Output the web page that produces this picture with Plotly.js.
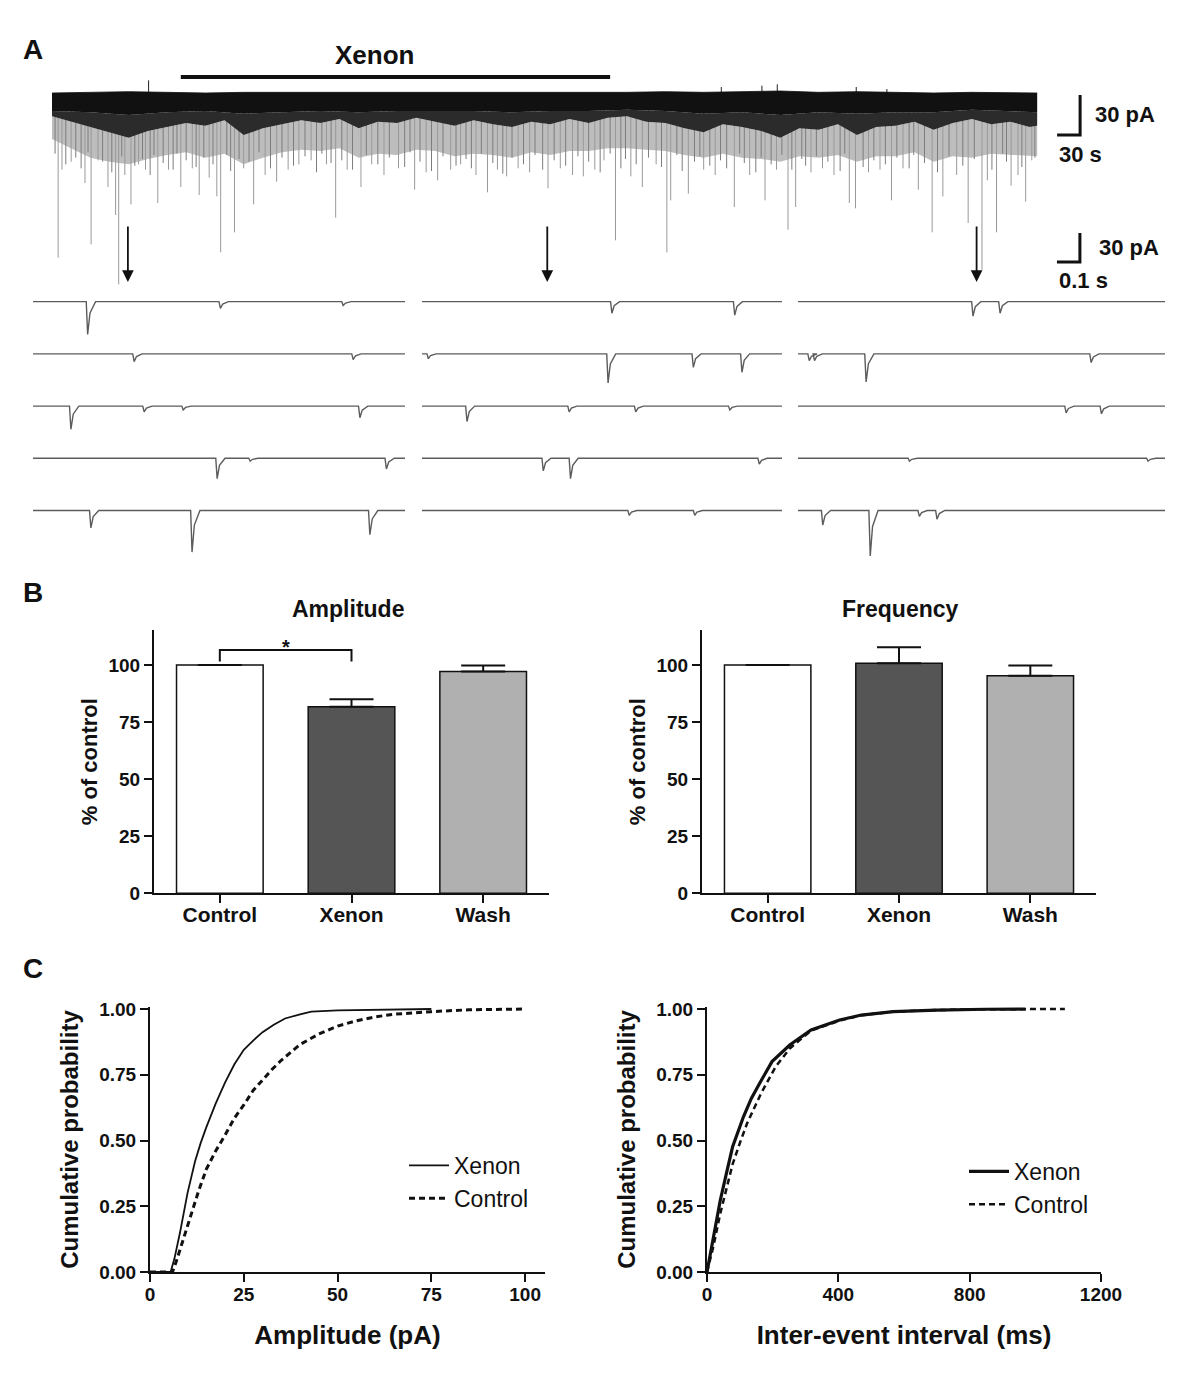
<!DOCTYPE html>
<html><head><meta charset="utf-8">
<script src="https://cdn.plot.ly/plotly-3.0.1.min.js"></script>
<style>html,body{margin:0;padding:0;background:#fff}#chart{width:1200px;height:1393px}</style>
</head><body><div id="chart"></div>
<script>
// ================= DATA =================
// Panel A – overview recording (time in s, current in pA relative to baseline)
const bandTime   = [0,50,100,150,200,250,300,350,400,450,500,550,600,650,700,750,800,850,900,950,1000,1050,1100,1150,1200,1250,1285];
const bandTop    = [1.5,2,2.5,2,1.5,2,2,1.5,2,1.5,1.5,2,1.5,2,1.5,2,2.5,2,2.5,3,2,2.5,2,1.5,2,1.5,1.5];
const bandSolid  = [-12,-13,-15,-13,-12,-14,-13,-12,-13,-12,-12,-12,-13,-12,-12,-11,-12,-14,-13,-15,-13,-14,-13,-13,-11,-12,-13];
const edgeTime = [0,25,50,75,100,125,150,175,200,225,
  250,275,300,325,350,375,400,425,450,475,
  500,525,550,575,600,625,650,675,700,725,
  750,775,800,825,850,875,900,925,950,975,
  1000,1025,1050,1075,1100,1125,1150,1175,1200,1225,
  1250,1275,1285];
const bandDark = [-16,-20,-24,-28,-32,-27,-24,-21,-23,-19,
  -30,-25,-22,-19,-21,-18,-25,-20,-21,-17,
  -20,-23,-19,-22,-24,-20,-22,-18,-21,-17,
  -16,-20,-21,-25,-28,-22,-24,-27,-32,-25,
  -26,-22,-30,-24,-23,-20,-26,-21,-18,-22,
  -20,-24,-23];
const bandFringe = [-33,-40,-47,-50,-52,-48,-45,-43,-47,-44,
  -52,-47,-43,-41,-42,-40,-47,-44,-45,-41,
  -42,-46,-44,-45,-47,-43,-45,-42,-42,-40,
  -40,-41,-42,-45,-47,-44,-47,-48,-50,-46,
  -47,-45,-50,-46,-46,-43,-50,-46,-47,-44,
  -45,-46,-46];
const spikeTime = [8,13,25,43,51,60,73,83,87,95,
  103,113,122,138,152,168,183,192,205,215,
  220,238,250,263,278,293,308,322,338,358,
  370,385,403,417,433,452,473,488,503,520,
  533,553,568,581,593,608,623,647,663,679,
  693,708,720,735,755,770,788,802,807,830,
  850,865,890,910,930,945,960,970,990,1005,
  1020,1040,1048,1065,1080,1095,1110,1130,1148,1162,
  1180,1195,1213,1220,1232,1251,1260,1270,1278];
const spikeAmp = [-122,-56,-50,-66,-112,-49,-69,-90,-142,-60,
  -82,-52,-56,-81,-56,-69,-55,-75,-62,-76,
  -118,-103,-55,-82,-60,-65,-56,-52,-49,-52,
  -92,-56,-69,-52,-60,-55,-71,-58,-64,-56,
  -52,-60,-73,-56,-61,-55,-58,-70,-55,-60,
  -61,-56,-49,-109,-61,-69,-52,-118,-79,-74,
  -56,-60,-84,-60,-79,-56,-101,-84,-58,-55,
  -60,-81,-85,-58,-56,-79,-55,-71,-103,-76,
  -60,-96,-131,-64,-103,-68,-60,-80,-49];
const mediumTime = [4,18,31,38,47,66,78,91,108,118,
  128,133,145,158,163,175,188,198,210,228,
  233,244,257,270,285,300,315,330,345,352,
  364,378,392,410,425,440,460,467,480,495,
  510,527,540,547,560,575,588,600,615,630,
  640,655,670,686,700,715,728,742,748,762,
  778,795,815,822,838,845,858,872,880,897,
  903,918,925,938,952,965,978,983,997,1012,
  1028,1034,1058,1072,1087,1102,1118,1124,1138,1155,
  1170,1188,1203,1226,1240,1245,1265,1282];
const mediumAmp = [-44,-52,-47,-55,-43,-50,-58,-46,-53,-48,
  -60,-45,-51,-56,-44,-49,-54,-47,-52,-45,
  -57,-48,-50,-43,-55,-47,-53,-46,-58,-44,
  -51,-49,-56,-45,-52,-47,-54,-43,-50,-57,
  -46,-53,-48,-55,-44,-51,-59,-47,-52,-45,
  -56,-49,-53,-46,-50,-58,-44,-55,-48,-52,
  -47,-54,-45,-57,-50,-46,-53,-49,-55,-44,
  -51,-58,-47,-52,-45,-56,-48,-53,-46,-50,
  -57,-44,-54,-49,-52,-47,-55,-45,-51,-58,
  -46,-53,-48,-56,-44,-50,-54,-47];
const upTime = [126,873,926,946,1049,1089];
const upAmp  = [11,6,7,8,6,4.5];
const xenonPeriod = [168, 728];          // s
const sampleTimes = [99, 646, 1206];     // s, where the sweeps below were taken
const scaleA = {time: 30, current: 30};  // 30 s, 30 pA

// Panel A – 1.6 s sweeps (event onset in s, amplitude in pA), 3 columns x 5 rows
const sweepDuration = 1.6;
const sweepTimesCol1 = [[0.229,0.8,1.328],[0.429,1.371],[0.157,0.472,0.64,1.4],[0.786,0.928,1.514],[0.243,0.678,1.443]];
const sweepAmpsCol1  = [[34,7,4],[8,6],[24,6,4,12],[21,3,11],[18,43,25]];
const sweepTimesCol2 = [[0.838,1.384],[0.022,0.821,1.2,1.416],[0.194,0.648,0.944,1.362],[0.533,0.654,1.493],[0.915,1.206]];
const sweepAmpsCol2  = [[12,14],[5,30,14,19],[16,6,6,4],[13,21,6],[5,5]];
const sweepTimesCol3 = [[0.757,0.875],[0.043,0.066,0.291,1.272],[1.163,1.317],[0.48,1.52],[0.102,0.309,0.523,0.6]];
const sweepAmpsCol3  = [[15,12],[7,7,29,9],[7,8],[3,3],[15,47,6,9]];
const scaleSweep = {time: 0.1, current: 30};

// Panel B – % of control (mean, +SEM)
const conditions = ['Control','Xenon','Wash'];
const ampMean  = [100, 81.7, 97.1];
const ampSem   = [0, 3.3, 2.6];
const freqMean = [100, 100.7, 95.3];
const freqSem  = [0, 7.1, 4.4];
const barColors = ['#ffffff','#555555','#b0b0b0'];

// Panel C – cumulative probability
const ampXenonX = [0,5.5,6.5,8,10,12,13.5,15,17.5,20,22.5,25,27.5,30,33,36,40,43,50,60,75];
const ampXenonY = [0,0,0.05,0.15,0.3,0.42,0.49,0.55,0.64,0.72,0.79,0.845,0.88,0.912,0.94,0.964,0.98,0.99,0.995,0.998,1.0];
const ampCtrlX  = [0,6,7,9,11,13,15,17.5,20,22.5,25,27.5,30,32.5,35,40,45,50,55,60,65,75,85,100];
const ampCtrlY  = [0,0,0.04,0.13,0.22,0.31,0.39,0.46,0.52,0.585,0.635,0.69,0.73,0.77,0.805,0.865,0.905,0.935,0.955,0.97,0.98,0.99,0.997,1.0];
const iviXenonX = [0,20,40,60,78,111,135,160,198,252,317,404,470,567,700,850,970];
const iviXenonY = [0,0.13,0.27,0.38,0.476,0.59,0.66,0.717,0.8,0.863,0.92,0.958,0.977,0.99,0.996,0.999,1.0];
const iviCtrlX  = [0,20,40,60,78,100,122,165,209,252,317,404,470,567,700,850,1000,1090];
const iviCtrlY  = [0,0.1,0.22,0.32,0.41,0.49,0.565,0.68,0.78,0.85,0.918,0.956,0.976,0.99,0.996,0.999,1.0,1.0];

// ================= LAYOUT HELPERS =================
const FONT = '"Liberation Sans", Arial, Helvetica, sans-serif';
const W = 1200, H = 1393;
const fx = px => px / W;
const fy = px => 1 - px / H;
const rowStep = 54; // vertical display offset between sweeps (pA)

const hidden = {visible:false, fixedrange:true};
const axLine = {showline:true, linecolor:'#111', linewidth:2, ticks:'outside', ticklen:8, tickwidth:2, tickcolor:'#111',
  showgrid:false, zeroline:false, fixedrange:true, tickfont:{family:FONT, size:19, color:'#111', weight:700}};
const skip = {showlegend:false, hoverinfo:'skip'};
const traces = [];
const A = (o) => Object.assign({xaxis:'x', yaxis:'y', mode:'lines'}, skip, o);

// ---- Panel A overview ----
function vlines(ts, vs) { const x=[], y=[]; ts.forEach((t,i)=>{ x.push(t,t,null); y.push(0, vs[i], null); }); return {x, y}; }
traces.push(A({x:edgeTime, y:bandDark, line:{width:0}}));
traces.push(A({x:edgeTime, y:bandFringe, line:{width:0}, fill:'tonexty', fillcolor:'#bdbdbd'}));
const med = vlines(mediumTime, mediumAmp);
traces.push(A({x:med.x, y:med.y, line:{color:'#7d7d7d', width:1}}));
const sp = vlines(spikeTime, spikeAmp);
traces.push(A({x:sp.x, y:sp.y, line:{color:'#999', width:1}}));
const up = vlines(upTime, upAmp);
traces.push(A({x:up.x, y:up.y, line:{color:'#222', width:1}}));
traces.push(A({x:edgeTime, y:bandDark, line:{width:0}}));
traces.push(A({x:bandTime, y:bandSolid, line:{width:0}, fill:'tonexty', fillcolor:'#2b2b2b'}));
traces.push(A({x:bandTime, y:bandTop, line:{width:0.8, color:'#111'}, fill:'tonexty', fillcolor:'#111'}));
// xenon application bar
traces.push(A({x:xenonPeriod, y:[13.5,13.5], line:{color:'#111', width:4}}));
// scale bar A (anchored right of recording)
const sbA_t = 1341, sbA_v = -30;
traces.push(A({x:[sbA_t-scaleA.time, sbA_t, sbA_t], y:[sbA_v, sbA_v, sbA_v+scaleA.current], line:{color:'#111', width:3}}));

// ---- Panel A sweeps ----
function sweepTrace(times, amps, xa, ya) {
  const x=[], y=[];
  times.forEach((row, r) => {
    const base = -r*rowStep;
    x.push(0); y.push(base);
    row.forEach((t,i) => { const a = amps[r][i];
      x.push(t, t+0.006, t+0.016, t+0.04); y.push(base, base-a, base-0.35*a, base); });
    x.push(sweepDuration); y.push(base);
    x.push(null); y.push(null);
  });
  return Object.assign({x, y, xaxis:xa, yaxis:ya, mode:'lines', line:{color:'#5c5c5c', width:1.4}}, skip);
}
traces.push(sweepTrace(sweepTimesCol1, sweepAmpsCol1, 'x2', 'y2'));
traces.push(sweepTrace(sweepTimesCol2, sweepAmpsCol2, 'x3', 'y3'));
traces.push(sweepTrace(sweepTimesCol3, sweepAmpsCol3, 'x4', 'y4'));
const sbS_t = 1.229, sbS_v = 41;
traces.push(Object.assign({x:[sbS_t-scaleSweep.time, sbS_t, sbS_t], y:[sbS_v, sbS_v, sbS_v+scaleSweep.current], xaxis:'x4', yaxis:'y4', mode:'lines',
  line:{color:'#111', width:3}}, skip));

// ---- Panel B ----
const barLine = {color:'#111', width:1.5};
traces.push(Object.assign({type:'bar', x:conditions, y:ampMean, xaxis:'x5', yaxis:'y5', marker:{color:barColors, line:barLine},
  error_y:{type:'data', symmetric:false, array:ampSem, arrayminus:[0,0,0], color:'#111', thickness:2, width:22}}, skip));
traces.push(Object.assign({x:['Control','Control','Xenon','Xenon'], y:[101.5,106.5,106.5,101.5], xaxis:'x5', yaxis:'y5', mode:'lines',
  line:{color:'#111', width:2}, cliponaxis:false}, skip));
traces.push(Object.assign({type:'bar', x:conditions, y:freqMean, xaxis:'x6', yaxis:'y6', marker:{color:barColors, line:barLine},
  error_y:{type:'data', symmetric:false, array:freqSem, arrayminus:[0,0,0], color:'#111', thickness:2, width:22}}, skip));

// ---- Panel C ----
traces.push({x:ampXenonX, y:ampXenonY, xaxis:'x7', yaxis:'y7', mode:'lines', name:'Xenon', line:{color:'#111', width:1.8}, legend:'legend', legendgroup:'a1', hoverinfo:'skip'});
traces.push({x:ampCtrlX, y:ampCtrlY, xaxis:'x7', yaxis:'y7', mode:'lines', name:'Control', line:{color:'#111', width:3, dash:'6px,4px'}, legend:'legend', legendgroup:'a2', hoverinfo:'skip'});
traces.push({x:iviXenonX, y:iviXenonY, xaxis:'x8', yaxis:'y8', mode:'lines', name:'Xenon', line:{color:'#111', width:3.2}, legend:'legend2', legendgroup:'b1', hoverinfo:'skip'});
traces.push({x:iviCtrlX, y:iviCtrlY, xaxis:'x8', yaxis:'y8', mode:'lines', name:'Control', line:{color:'#111', width:2.5, dash:'6px,4px'}, legend:'legend2', legendgroup:'b2', hoverinfo:'skip'});

// ================= AXES =================
const sPerPx = scaleA.time / 23;
const titleFont = (s) => ({family:FONT, size:s, weight:700, color:'#111'});
const catFont = {family:FONT, size:21, color:'#111', weight:700};
const legendCommon = {xanchor:'left', yanchor:'top', bgcolor:'rgba(0,0,0,0)', font:{family:FONT, size:23, color:'#111'},
  traceorder:'grouped', tracegroupgap:0, itemwidth:40};
const layout = {
  width:W, height:H, margin:{l:0,r:0,t:0,b:0}, paper_bgcolor:'#fff', plot_bgcolor:'rgba(0,0,0,0)',
  font:{family:FONT, color:'#111'}, bargap:0.342, showlegend:true,
  xaxis: Object.assign({}, hidden, {domain:[fx(52),1], range:[0,(W-52)*sPerPx]}),
  yaxis: Object.assign({}, hidden, {domain:[fy(290),fy(40)], range:[-146.25,41.25]}),
  xaxis2: Object.assign({}, hidden, {domain:[fx(33),fx(405)], range:[0,sweepDuration], anchor:'y2'}),
  yaxis2: Object.assign({}, hidden, {domain:[fy(560),fy(225)], range:[-267.2,79.3], anchor:'x2'}),
  xaxis3: Object.assign({}, hidden, {domain:[fx(422),fx(782)], range:[0,sweepDuration], anchor:'y3'}),
  yaxis3: Object.assign({}, hidden, {domain:[fy(560),fy(225)], range:[-267.2,79.3], anchor:'x3'}),
  xaxis4: Object.assign({}, hidden, {domain:[fx(798),fx(1165)], range:[0,sweepDuration], anchor:'y4'}),
  yaxis4: Object.assign({}, hidden, {domain:[fy(560),fy(225)], range:[-267.2,79.3], anchor:'x4'}),
  xaxis5: Object.assign({}, axLine, {domain:[fx(154),fx(549)], type:'category', range:[-0.5,2.5], anchor:'y5', tickfont:catFont, ticklabelstandoff:-7}),
  yaxis5: Object.assign({}, axLine, {domain:[fy(893.3),fy(630)], range:[0,115.3], tickvals:[0,25,50,75,100], anchor:'x5',
    title:{text:'% of control', font:titleFont(22), standoff:5}}),
  xaxis6: Object.assign({}, axLine, {domain:[fx(702),fx(1096)], type:'category', range:[-0.5,2.5], anchor:'y6', tickfont:catFont, ticklabelstandoff:-7}),
  yaxis6: Object.assign({}, axLine, {domain:[fy(893.3),fy(630)], range:[0,115.3], tickvals:[0,25,50,75,100], anchor:'x6',
    title:{text:'% of control', font:titleFont(22), standoff:5}}),
  xaxis7: Object.assign({}, axLine, {domain:[fx(150),fx(545)], range:[0,105.3], tickvals:[0,25,50,75,100], anchor:'y7', ticklabelstandoff:-4,
    title:{text:'Amplitude (pA)', font:titleFont(26), standoff:22}}),
  yaxis7: Object.assign({}, axLine, {domain:[fy(1272),fy(1007)], range:[0,1.0076], tickvals:[0,0.25,0.5,0.75,1], tickformat:'.2f', anchor:'x7',
    title:{text:'Cumulative probability', font:titleFont(24), standoff:14}}),
  xaxis8: Object.assign({}, axLine, {domain:[fx(707),fx(1101)], range:[0,1200], tickvals:[0,400,800,1200], anchor:'y8', ticklabelstandoff:-4,
    title:{text:'Inter-event interval (ms)', font:titleFont(26), standoff:22}}),
  yaxis8: Object.assign({}, axLine, {domain:[fy(1272),fy(1007)], range:[0,1.0076], tickvals:[0,0.25,0.5,0.75,1], tickformat:'.2f', anchor:'x8',
    title:{text:'Cumulative probability', font:titleFont(24), standoff:14}}),
  legend: Object.assign({x:fx(404), y:fy(1144)}, legendCommon),
  legend2: Object.assign({x:fx(964), y:fy(1150)}, legendCommon),
  annotations: []
};
const ann = layout.annotations;
const bold = (size) => ({family:FONT, size:size, color:'#111', weight:700});
// panel letters
[['A',50],['B',592],['C',968]].forEach(([t,y]) => ann.push({xref:'paper', yref:'paper', x:fx(21), y:fy(y), text:t, showarrow:false, xanchor:'left', yanchor:'middle', font:bold(28)}));
// Panel A labels
ann.push({xref:'x', yref:'y', x:421, y:30, text:'Xenon', showarrow:false, font:bold(26), xanchor:'center', yanchor:'middle'});
ann.push({xref:'x', yref:'y', x:sbA_t+17, y:sbA_v+scaleA.current/2, text:'30 pA', showarrow:false, font:bold(22), xanchor:'left', yanchor:'middle'});
ann.push({xref:'x', yref:'y', x:sbA_t-scaleA.time, y:sbA_v-15, text:'30 s', showarrow:false, font:bold(22), xanchor:'left', yanchor:'middle'});
sampleTimes.forEach(t => ann.push({xref:'x', yref:'y', axref:'x', ayref:'y', x:t, y:-140.25, ax:t, ay:-97.5, text:'', showarrow:true,
  arrowhead:2, arrowsize:1.3, arrowwidth:1.8, arrowcolor:'#111'}));
ann.push({xref:'x4', yref:'y4', x:sbS_t+0.074, y:sbS_v+scaleSweep.current/2, text:'30 pA', showarrow:false, font:bold(22), xanchor:'left', yanchor:'middle'});
ann.push({xref:'x4', yref:'y4', x:sbS_t-scaleSweep.time, y:sbS_v-19, text:'0.1 s', showarrow:false, font:bold(22), xanchor:'left', yanchor:'middle'});
// Panel B titles & significance
ann.push({xref:'paper', yref:'paper', x:fx(348), y:fy(609), text:'Amplitude', showarrow:false, font:bold(23), xanchor:'center', yanchor:'middle'});
ann.push({xref:'paper', yref:'paper', x:fx(900), y:fy(609), text:'Frequency', showarrow:false, font:bold(23), xanchor:'center', yanchor:'middle'});
ann.push({xref:'x5', yref:'y5', x:0.5, y:108, text:'*', showarrow:false, font:bold(20), xanchor:'center', yanchor:'middle'});

Plotly.newPlot('chart', traces, layout, {staticPlot:true, displayModeBar:false});
</script>
</body></html>
